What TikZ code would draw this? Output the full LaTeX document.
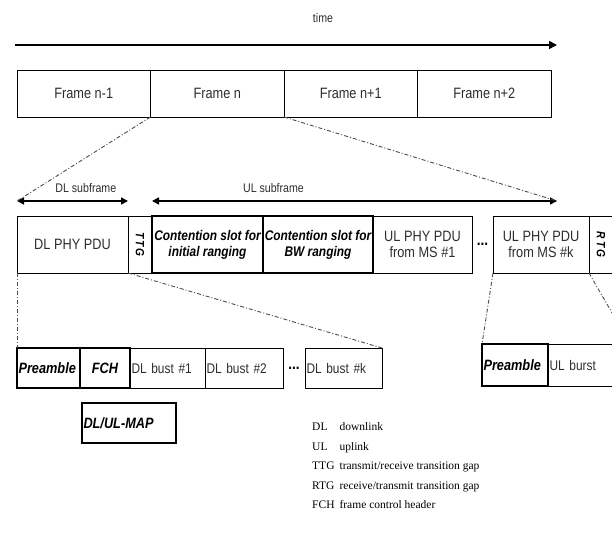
\documentclass[tikz,border=0pt]{standalone}
\usepackage{fontspec}
\setmainfont{Liberation Sans}[FakeStretch=0.85]
\newfontfamily\legendfont{Liberation Serif}
\usetikzlibrary{arrows.meta,positioning,calc}
\definecolor{txtgray}{RGB}{45,45,45}

\begin{document}
\begin{tikzpicture}[x=1pt, y=-1pt,
  cell/.style={draw, line width=0.8pt, minimum width=#1, inner sep=0pt,
               outer sep=0pt, align=center, text=txtgray,
               font=\fontsize{15}{16}\selectfont},
  cell/.default=100pt,
  frame/.style={cell=133.5pt, minimum height=47pt},
  sub/.style={cell=#1, minimum height=57pt},
  gapcell/.style={sub=24pt, text=black, font=\fontsize{12}{12}\selectfont\bfseries\itshape},
  slotbox/.style={sub=#1, line width=1.6pt, text=black,
                  font=\fontsize{14}{16}\selectfont\bfseries\itshape},
  burst/.style={cell=#1, minimum height=40pt, text width=#1-3pt, align=left,
                inner xsep=1.5pt, font=\fontsize{14}{16}\selectfont},
  hdr/.style={burst=#1, line width=1.4pt, text=black,
              font=\fontsize{15}{16}\selectfont\bfseries\itshape},
  span/.style={{Triangle[length=7pt,width=7pt]}-{Triangle[length=7pt,width=7pt]},
               line width=1.6pt},
  zoomline/.style={black!70, line width=0.9pt,
                   dash pattern=on 4pt off 2pt on 1pt off 2pt},
  lbl/.style={font=\fontsize{12.5}{14}\selectfont, text=txtgray},
  dots/.style={inner sep=0pt, font=\fontsize{16}{16}\selectfont\bfseries},
  node distance=0pt]

  \useasboundingbox (0,0) rectangle (612,540);
  \clip (0,0) rectangle (612,540);

  % time axis
  \node[lbl] (time) at (323,18) {time};
  \coordinate (tstart) at (15,45);
  \coordinate (tend) at (557,45);
  \draw[-{Triangle[length=8pt,width=8pt]}, line width=1.6pt] (tstart) -- (tend);

  % frames
  \node[frame, anchor=north west] (fnm1) at (17,70) {Frame n-1};
  \node[frame, right=of fnm1] (fn) {Frame n};
  \node[frame, right=of fn] (fnp1) {Frame n+1};
  \node[frame, right=of fnp1] (fnp2) {Frame n+2};

  % subframe spans
  \coordinate (dla) at (17,201);
  \coordinate (dlb) at (128,201);
  \coordinate (ula) at (152,201);
  \coordinate (ulb) at (557,201);
  \draw[span] (dla) -- (dlb) node[lbl, pos=0.62, above=4pt] {DL subframe};
  \draw[span] (ula) -- (ulb) node[lbl, pos=0.3, above=4pt] {UL subframe};

  % frame n, expanded
  \node[sub=111pt, anchor=north west] (dlpdu) at (17,216) {DL PHY PDU};
  \node[gapcell, right=of dlpdu] (ttg) {\rotatebox{-90}{T\,T\,G}};
  \node[slotbox=111pt, right=of ttg] (csinit) {Contention slot for\\initial ranging};
  \node[slotbox=110pt, right=of csinit] (csbw) {Contention slot for\\BW ranging};
  \node[sub=99pt, right=of csbw] (ulpdu1) {UL PHY PDU\\from MS \#1};
  \node[sub=96pt, right=21pt of ulpdu1] (ulpduk) {UL PHY PDU\\from MS \#k};
  \node[gapcell, right=of ulpduk] (rtg) {\rotatebox{-90}{R\,T\,G}};
  \node[dots] (uldots) at ($(ulpdu1.east)!0.5!(ulpduk.west)$) {...};

  % DL PHY PDU, expanded
  \node[hdr=63pt, anchor=north west] (dlpre) at (17,348) {Preamble};
  \node[hdr=50pt, right=of dlpre, align=center] (fch) {FCH};
  \node[burst=75pt, right=of fch] (dlb1) {DL bust \#1};
  \node[burst=78pt, right=of dlb1] (dlb2) {DL bust \#2};
  \node[burst=77pt, right=22pt of dlb2] (dlbk) {DL bust \#k};
  \node[dots] (dldots) at ($(dlb2.east)!0.5!(dlbk.west)$) {...};
  \node[hdr=94pt, anchor=north west] (map) at (82,403) {DL/UL-MAP};

  % UL PHY PDU, expanded
  \node[hdr=66pt, minimum height=42pt, anchor=north west] (ulpre) at (482,344) {Preamble};
  \node[burst=82pt, minimum height=42pt, right=of ulpre] (ulbst) {UL burst};

  % zoom lines
  \draw[zoomline] (fn.south west) -- (dla);
  \draw[zoomline] (fn.south east) -- (ulb);
  \draw[zoomline] (dlpdu.south west) -- (dlpre.north west);
  \draw[zoomline] (ttg.south west) -- (dlbk.north east);
  \draw[zoomline] (ulpduk.south west) -- (ulpre.north west);
  \draw[zoomline] (rtg.south west) -- (ulbst.north east);

  % legend
  \node[anchor=north west, inner sep=0pt, font=\legendfont\fontsize{11.5}{19.5}\selectfont]
    (legend) at (312,417) {%
    \begin{tabular}{@{}l@{\hspace{5pt}}l@{}}
      DL & downlink\\
      UL & uplink\\
      TTG & transmit/receive transition gap\\
      RTG & receive/transmit transition gap\\
      FCH & frame control header
    \end{tabular}};
\end{tikzpicture}
\end{document}
